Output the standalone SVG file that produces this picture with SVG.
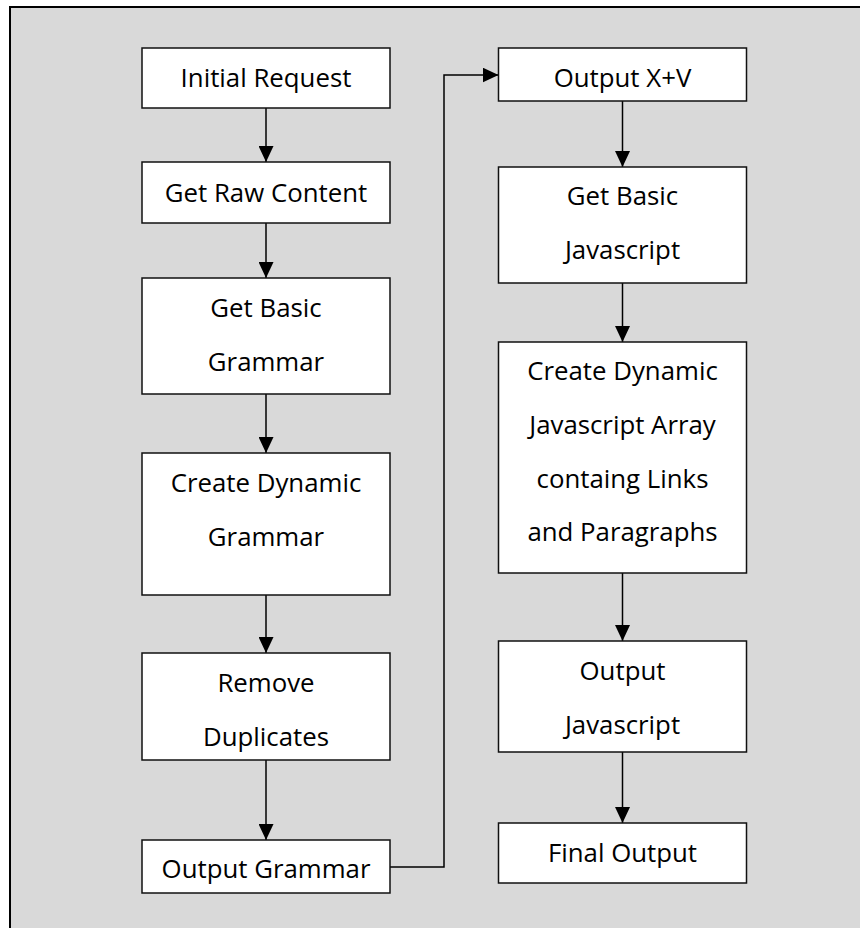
<svg xmlns="http://www.w3.org/2000/svg" width="860" height="928" viewBox="0 0 860 928">
  <style>
    .box { fill: #ffffff; stroke: #111111; stroke-width: 1.5; }
    .lbl { font-family: "Open Sans", "Liberation Sans", sans-serif; font-size: 25.8px; fill: #000000; text-anchor: middle; }
    .wire { fill: none; stroke: #000000; stroke-width: 1.5; }
  </style>
  <defs>
    <marker id="arrow" markerUnits="userSpaceOnUse" markerWidth="16" markerHeight="15" refX="16" refY="7.5" orient="auto">
      <path d="M0,0 L16,7.5 L0,15 Z" fill="#000000"/>
    </marker>
  </defs>

  <!-- panel background -->
  <rect x="10" y="7" width="900" height="1000" fill="#d9d9d9" stroke="#000000" stroke-width="2"/>

  <!-- connectors -->
  <g id="connectors">
    <path class="wire" d="M266,108 V162" marker-end="url(#arrow)"/>
    <path class="wire" d="M266,223 V278" marker-end="url(#arrow)"/>
    <path class="wire" d="M266,394 V453" marker-end="url(#arrow)"/>
    <path class="wire" d="M266,595 V653" marker-end="url(#arrow)"/>
    <path class="wire" d="M266,760 V840" marker-end="url(#arrow)"/>
    <path class="wire" d="M390,867 H444 V75 H498.5" marker-end="url(#arrow)"/>
    <path class="wire" d="M622.5,101 V167" marker-end="url(#arrow)"/>
    <path class="wire" d="M622.5,283 V342" marker-end="url(#arrow)"/>
    <path class="wire" d="M622.5,573 V641" marker-end="url(#arrow)"/>
    <path class="wire" d="M622.5,752 V823" marker-end="url(#arrow)"/>
  </g>

  <!-- left column -->
  <g id="initial-request">
    <rect class="box" x="142" y="48" width="248" height="60"/>
    <text class="lbl" x="266" y="87">Initial Request</text>
  </g>
  <g id="get-raw-content">
    <rect class="box" x="142" y="162" width="248" height="61"/>
    <text class="lbl" x="266" y="201.5">Get Raw Content</text>
  </g>
  <g id="get-basic-grammar">
    <rect class="box" x="142" y="278" width="248" height="116"/>
    <text class="lbl" x="266" y="316.5">Get Basic</text>
    <text class="lbl" x="266" y="370.5">Grammar</text>
  </g>
  <g id="create-dynamic-grammar">
    <rect class="box" x="142" y="453" width="248" height="142"/>
    <text class="lbl" x="266" y="491.5">Create Dynamic</text>
    <text class="lbl" x="266" y="545.5">Grammar</text>
  </g>
  <g id="remove-duplicates">
    <rect class="box" x="142" y="653" width="248" height="107"/>
    <text class="lbl" x="266" y="691.5">Remove</text>
    <text class="lbl" x="266" y="745.5">Duplicates</text>
  </g>
  <g id="output-grammar">
    <rect class="box" x="142" y="840" width="248" height="53"/>
    <text class="lbl" x="266" y="878">Output Grammar</text>
  </g>

  <!-- right column -->
  <g id="output-xv">
    <rect class="box" x="498.5" y="48" width="248" height="53"/>
    <text class="lbl" x="622.5" y="87">Output X+V</text>
  </g>
  <g id="get-basic-javascript">
    <rect class="box" x="498.5" y="167" width="248" height="116"/>
    <text class="lbl" x="622.5" y="205">Get Basic</text>
    <text class="lbl" x="622.5" y="259">Javascript</text>
  </g>
  <g id="create-dynamic-array">
    <rect class="box" x="498.5" y="342" width="248" height="231"/>
    <text class="lbl" x="622.5" y="380">Create Dynamic</text>
    <text class="lbl" x="622.5" y="434">Javascript Array</text>
    <text class="lbl" x="622.5" y="487.5">containg Links</text>
    <text class="lbl" x="622.5" y="541">and Paragraphs</text>
  </g>
  <g id="output-javascript">
    <rect class="box" x="498.5" y="641" width="248" height="111"/>
    <text class="lbl" x="622.5" y="679.5">Output</text>
    <text class="lbl" x="622.5" y="733.5">Javascript</text>
  </g>
  <g id="final-output">
    <rect class="box" x="498.5" y="823" width="248" height="60"/>
    <text class="lbl" x="622.5" y="861.5">Final Output</text>
  </g>
</svg>
